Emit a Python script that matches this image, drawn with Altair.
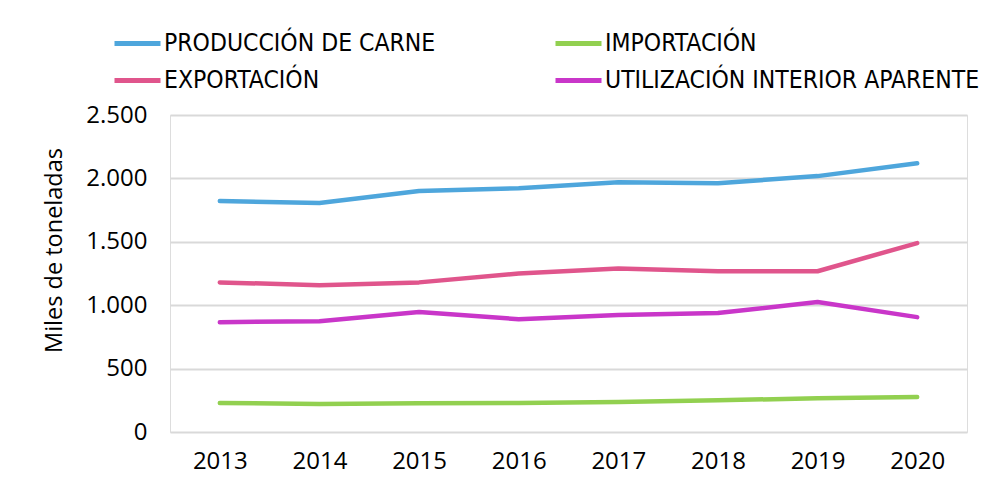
import altair as alt
import pandas as pd

years = ["2013", "2014", "2015", "2016", "2017", "2018", "2019", "2020"]
series_names = [
    "PRODUCCIÓN DE CARNE",
    "IMPORTACIÓN",
    "EXPORTACIÓN",
    "UTILIZACIÓN INTERIOR APARENTE",
]
produccion = [1822, 1806, 1900, 1922, 1970, 1962, 2018, 2120]
importacion = [229, 221, 227, 228, 236, 250, 266, 276]
exportacion = [1180, 1158, 1180, 1250, 1290, 1268, 1268, 1490]
utilizacion = [866, 874, 946, 890, 922, 938, 1025, 906]
colors = ["#4EA6DC", "#92D050", "#E0558C", "#C936C9"]

rows = []
for name, vals in zip(series_names, [produccion, importacion, exportacion, utilizacion]):
    for y, v in zip(years, vals):
        rows.append({"year": y, "serie": name, "value": v})
df = pd.DataFrame(rows)

font_axis = "Open Sans"
font_legend = "DejaVu Sans Condensed"

chart = (
    alt.Chart(df)
    .mark_line(strokeWidth=4.5, strokeCap="round", strokeJoin="round")
    .encode(
        x=alt.X(
            "year:O",
            scale=alt.Scale(type="point", padding=0.5),
            axis=alt.Axis(
                title=None,
                labelAngle=0,
                domain=False,
                ticks=False,
                grid=False,
                labelFontSize=24,
                labelFont=font_axis,
                labelColor="#000000",
                labelPadding=17,
            ),
        ),
        y=alt.Y(
            "value:Q",
            scale=alt.Scale(domain=[0, 2500], nice=False),
            axis=alt.Axis(
                title="Miles de toneladas",
                values=[0, 500, 1000, 1500, 2000, 2500],
                labelExpr="replace(format(datum.value, ','), ',', '.')",
                domain=False,
                ticks=False,
                gridColor="#D9D9D9",
                gridWidth=2,
                labelFontSize=24,
                labelFont=font_axis,
                labelColor="#000000",
                labelPadding=23,
                titleFont=font_axis,
                titleFontSize=23.5,
                titleFontWeight="normal",
                titleColor="#000000",
                titleX=-104,
                titleY=135,
            ),
        ),
        color=alt.Color(
            "serie:N",
            scale=alt.Scale(domain=series_names, range=colors),
            sort=series_names,
            legend=alt.Legend(
                title=None,
                orient="none",
                legendX=-58,
                legendY=-97,
                columns=2,
                direction="horizontal",
                symbolType="stroke",
                symbolSize=2116,
                symbolStrokeWidth=5,
                labelFont=font_legend,
                labelFontSize=24.5,
                labelColor="#000000",
                labelOffset=1,
                labelLimit=600,
                columnPadding=109,
                rowPadding=0,
                gridAlign="each",
            ),
        ),
    )
    .properties(
        width=797,
        height=317,
        autosize=alt.AutoSizeParams(type="none"),
        padding={"left": 162, "top": 107, "right": 30, "bottom": 47},
    )
    .configure_view(stroke=None)
    .configure(background="#FFFFFF")
)

chart.save("out.html", embed_options={"renderer": "svg", "actions": False})
